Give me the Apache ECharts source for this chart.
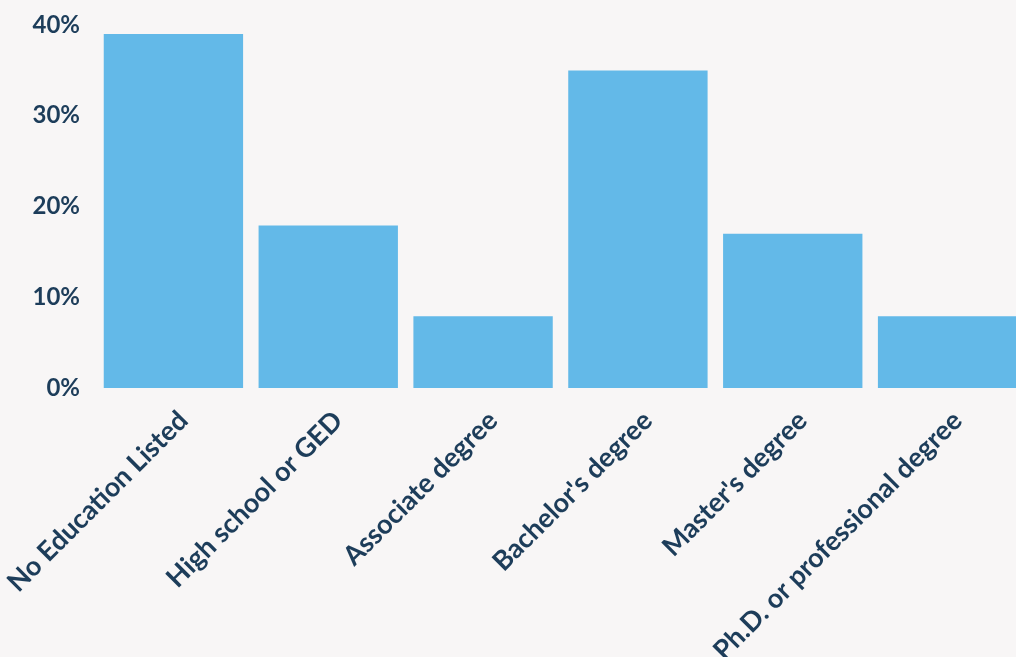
<!DOCTYPE html>
<html>
<head>
<meta charset="utf-8">
<script src="https://cdn.jsdelivr.net/npm/echarts@6/dist/echarts.min.js"></script>
<style>
  html, body { margin: 0; padding: 0; background: #f8f6f6; }
  #chart { width: 1016px; height: 657px; }
</style>
</head>
<body>
<div id="chart"></div>
<script>
// 学历分布
const categories = ['No Education Listed', 'High school or GED', 'Associate degree', "Bachelor's degree", "Master's degree", 'Ph.D. or professional degree']
const shares = [39, 17.9, 7.9, 35, 17, 7.9]
const yTicks = [0, 10, 20, 30, 40]

const mychart = echarts.init(document.getElementById('chart'))
mychart.setOption({
  backgroundColor: '#f8f6f6',
  animation: false,
  grid: {
    left: 96,
    top: 25,
    width: 929,
    height: 363,
    outerBoundsMode: 'none',
    containLabel: false
  },
  xAxis: {
    type: 'category',
    data: categories,
    axisLine: { show: false },
    axisTick: { show: false },
    axisLabel: {
      rotate: 45,
      interval: 0,
      margin: 38,
      padding: [0, -14, 0, 0],
      color: '#1d3d5a',
      fontFamily: 'Lato',
      fontWeight: 'bold',
      fontSize: 27
    }
  },
  yAxis: {
    type: 'value',
    min: yTicks[0],
    max: yTicks[yTicks.length - 1],
    interval: 10,
    splitLine: { show: false },
    axisLine: { show: false },
    axisTick: { show: false },
    axisLabel: {
      margin: 16,
      color: '#1d3d5a',
      fontFamily: 'Lato',
      fontWeight: 'bold',
      fontSize: 24,
      formatter: '{value}%'
    }
  },
  series: [
    {
      type: 'bar',
      data: shares,
      barCategoryGap: '10%',
      itemStyle: { color: '#63b9e8' }
    }
  ]
})
</script>
</body>
</html>
